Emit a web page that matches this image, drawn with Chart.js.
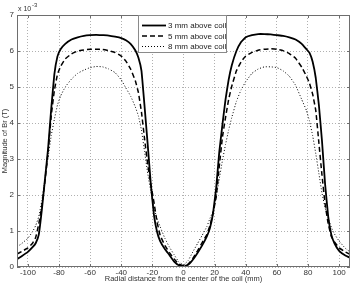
<!DOCTYPE html>
<html>
<head>
<meta charset="utf-8">
<script src="https://cdn.jsdelivr.net/npm/chart.js@4.4.0/dist/chart.umd.min.js"></script>
<style>
  html, body { margin: 0; padding: 0; background: #fff; }
  canvas { display: block; }
</style>
</head>
<body>
<canvas id="chart" width="354" height="284"></canvas>
<script>
// radial distance (mm)
const radialMm = [-107,-104,-100,-97,-95,-93,-91,-89,-87,-85,-83,-81,-79,-76,-72,-68,-64,-60,-56,-52,
  -48,-44,-40,-37,-34,-31,-29,-27,-25,-23,-21,-19,-17,-15,-12,-9,-6,-3,0,
  3,6,9,12,15,17,19,21,23,25,27,29,31,34,37,40,44,48,52,56,60,64,68,72,76,79,81,83,85,87,89,91,93,95,97,100,104,107];

// |Br| in units of 1e-3 T
const above3mm = [0.22,0.30,0.42,0.55,0.66,0.90,1.60,2.45,3.30,4.40,5.35,5.85,6.05,6.20,6.32,6.38,6.42,6.44,6.45,6.44,
  6.43,6.40,6.36,6.30,6.20,6.02,5.82,5.45,4.45,3.40,2.30,1.45,0.98,0.72,0.50,0.33,0.15,0.05,0.03,
  0.06,0.20,0.39,0.60,0.85,1.08,1.50,2.20,3.20,3.95,4.65,5.20,5.60,6.00,6.25,6.38,6.44,6.47,6.47,6.46,6.44,6.42,6.38,6.32,6.20,6.05,5.95,5.70,5.25,4.50,3.50,2.30,1.40,0.90,0.66,0.45,0.32,0.26];

const above5mm = [0.36,0.43,0.53,0.66,0.82,1.20,1.70,2.40,3.20,4.20,4.90,5.35,5.57,5.78,5.92,6.00,6.03,6.05,6.05,6.04,
  6.01,5.96,5.86,5.72,5.50,5.18,4.85,4.30,3.55,2.85,2.30,1.80,1.25,0.88,0.60,0.40,0.22,0.08,0.04,
  0.08,0.24,0.45,0.68,0.90,1.15,1.50,1.95,2.80,3.60,4.15,4.65,5.02,5.45,5.70,5.86,5.96,6.02,6.05,6.06,6.05,6.01,5.93,5.80,5.55,5.30,5.10,4.80,4.35,3.45,2.55,1.75,1.20,0.85,0.70,0.53,0.42,0.35];

const above8mm = [0.56,0.65,0.80,0.98,1.15,1.40,1.85,2.45,3.05,3.65,4.10,4.50,4.75,5.00,5.22,5.38,5.47,5.54,5.57,5.56,
  5.50,5.40,5.20,4.97,4.75,4.45,4.20,3.80,3.20,2.60,2.10,1.65,1.35,1.12,0.80,0.55,0.34,0.14,0.06,
  0.18,0.42,0.65,0.88,1.12,1.35,1.55,1.95,2.45,2.95,3.40,3.80,4.15,4.60,4.92,5.15,5.38,5.50,5.56,5.56,5.54,5.45,5.30,5.05,4.65,4.35,4.05,3.65,3.15,2.60,2.05,1.65,1.35,1.10,0.92,0.72,0.52,0.42];

const seriesLabels = ['3 mm above coil', '5 mm above coil', '8 mm above coil'];
const xTicks = [-100, -80, -60, -40, -20, 0, 20, 40, 60, 80, 100];
const yTicks = [0, 1, 2, 3, 4, 5, 6, 7];

const font = 'Liberation Sans, Arial, sans-serif';

function toPoints(ys) {
    return radialMm.map((x, i) => ({ x: x, y: ys[i] }));
}

// frame, inward ticks, exponent label and legend box (MATLAB look)
const matlabAxes = {
    id: 'matlabAxes',
    afterDatasetsDraw(chart) {
        const ctx = chart.ctx;
        const a = chart.chartArea;
        const xs = chart.scales.x, ys = chart.scales.y;
        ctx.save();
        ctx.strokeStyle = '#6e6e6e';
        ctx.lineWidth = 1;
        ctx.strokeRect(a.left + 0.5, a.top + 0.5, a.right - a.left - 1, a.bottom - a.top - 1);
        ctx.beginPath();
        xTicks.forEach(v => {
            const px = Math.round(xs.getPixelForValue(v)) + 0.5;
            ctx.moveTo(px, a.bottom); ctx.lineTo(px, a.bottom - 3);
            ctx.moveTo(px, a.top); ctx.lineTo(px, a.top + 3);
        });
        yTicks.forEach(v => {
            const py = Math.round(ys.getPixelForValue(v)) + 0.5;
            ctx.moveTo(a.left, py); ctx.lineTo(a.left + 3, py);
            ctx.moveTo(a.right, py); ctx.lineTo(a.right - 3, py);
        });
        ctx.stroke();

        // exponent
        ctx.fillStyle = '#333';
        ctx.textBaseline = 'alphabetic';
        ctx.font = '7px ' + font;
        ctx.fillText('x 10', a.left + 1, a.top - 4);
        ctx.font = '6px ' + font;
        ctx.fillText('-3', a.left + 15, a.top - 8);

        // legend
        const lx = 138, ly = a.top, lw = 88, lh = 37;
        ctx.fillStyle = '#fff';
        ctx.fillRect(lx, ly, lw, lh);
        ctx.strokeStyle = '#8a8a8a';
        ctx.strokeRect(lx + 0.5, ly + 0.5, lw, lh);
        chart.data.datasets.forEach((ds, i) => {
            const y = ly + 10.5 + i * 10.5;
            ctx.strokeStyle = ds.borderColor;
            ctx.lineWidth = ds.borderWidth;
            ctx.setLineDash(ds.borderDash || []);
            ctx.beginPath();
            ctx.moveTo(lx + 4, y);
            ctx.lineTo(lx + 28, y);
            ctx.stroke();
            ctx.setLineDash([]);
            ctx.fillStyle = '#222';
            ctx.font = '8px ' + font;
            ctx.textBaseline = 'middle';
            ctx.fillText(ds.label, lx + 30, y + 0.5);
        });
        ctx.restore();
    }
};

new Chart(document.getElementById('chart'), {
    type: 'line',
    data: {
        datasets: [
            { label: seriesLabels[0], data: toPoints(above3mm), borderColor: '#000', borderWidth: 1.8, borderDash: [] },
            { label: seriesLabels[1], data: toPoints(above5mm), borderColor: '#000', borderWidth: 1.5, borderDash: [5, 3] },
            { label: seriesLabels[2], data: toPoints(above8mm), borderColor: '#000', borderWidth: 1, borderDash: [1, 2] }
        ]
    },
    options: {
        responsive: false,
        animation: false,
        devicePixelRatio: 1,
        layout: { padding: { top: 15, right: 4, left: 0, bottom: 0 } },
        elements: { point: { radius: 0 }, line: { tension: 0.1, fill: false } },
        plugins: { legend: { display: false }, tooltip: { enabled: false } },
        scales: {
            x: {
                type: 'linear',
                min: -107,
                max: 107,
                afterBuildTicks: s => { s.ticks = xTicks.map(v => ({ value: v })); },
                afterFit: s => { s.height = 17; },
                ticks: { color: '#333', font: { family: font, size: 8 }, padding: 1, maxRotation: 0 },
                grid: { color: '#b0b0b0', drawTicks: false },
                border: { display: false, dash: [1, 2] },
                title: {
                    display: true,
                    text: 'Radial distance from the center of the coil (mm)',
                    color: '#333',
                    font: { family: font, size: 7.5 },
                    padding: { top: 0, bottom: 1 }
                }
            },
            y: {
                type: 'linear',
                min: 0,
                max: 7,
                afterBuildTicks: s => { s.ticks = yTicks.map(v => ({ value: v })); },
                afterFit: s => { s.width = 17; },
                ticks: { color: '#333', font: { family: font, size: 8 }, padding: 3 },
                grid: { color: '#b0b0b0', drawTicks: false },
                border: { display: false, dash: [1, 2] },
                title: {
                    display: true,
                    text: 'Magnitude of Br (T)',
                    color: '#333',
                    font: { family: font, size: 7.5 },
                    padding: { top: 0, bottom: 0 }
                }
            }
        }
    },
    plugins: [matlabAxes]
});
</script>
</body>
</html>
